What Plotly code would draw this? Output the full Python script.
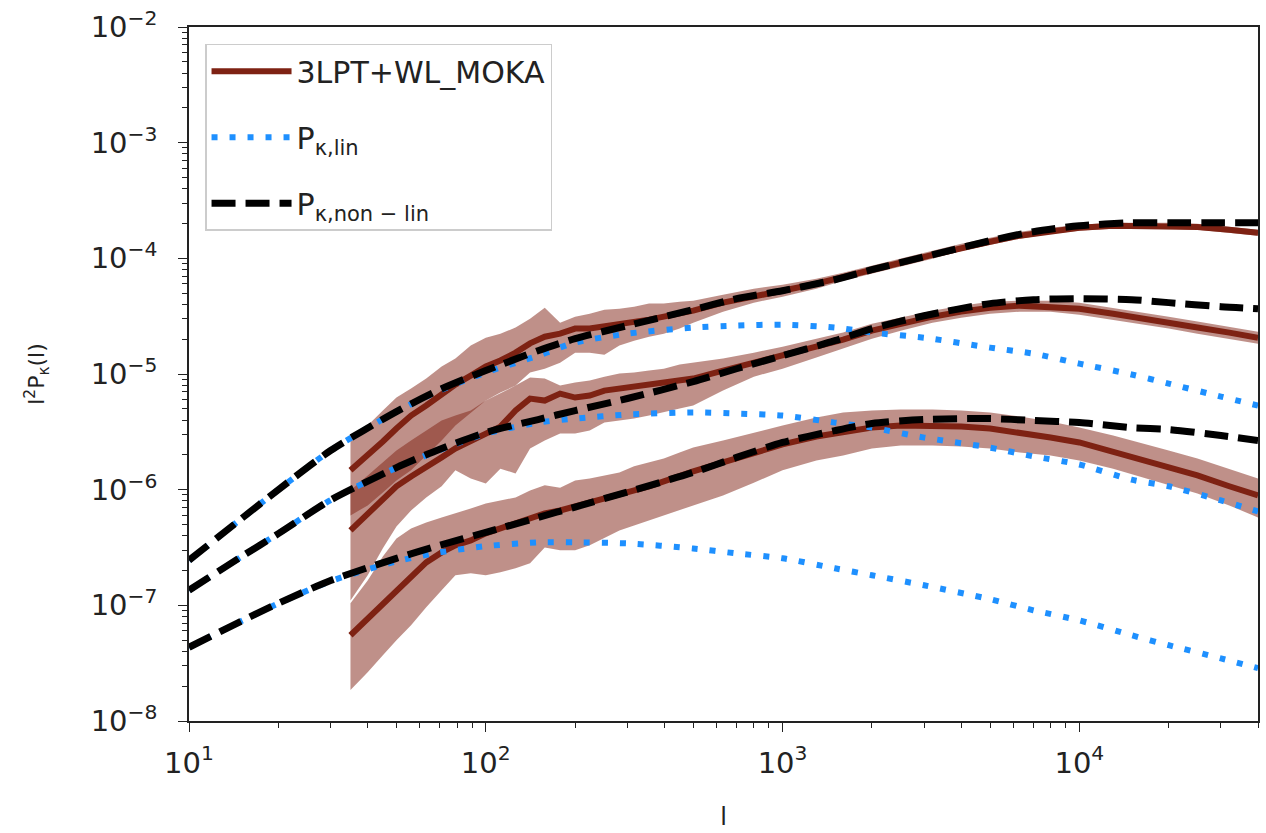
import plotly.graph_objects as go

# ---------------- data ----------------
# multipole grid for theory curves
l_theory = [10, 15, 20, 30, 50, 70, 100, 150, 200, 300, 500, 700, 1000, 1500,
            2000, 3000, 5000, 7000, 10000, 15000, 20000, 30000, 40000]

nonlin_top = [2.45e-7, 5.6e-7, 1.0e-6, 2.18e-6, 4.73e-6, 7.33e-6, 1.07e-5, 1.59e-5, 2.02e-5, 2.62e-5,
              3.60e-5, 4.48e-5, 5.25e-5, 6.53e-5, 7.97e-5, 1.03e-4, 1.42e-4, 1.70e-4, 1.91e-4,
              2.03e-4, 2.03e-4, 2.03e-4, 2.03e-4]
lin_top = [2.45e-7, 5.6e-7, 1.0e-6, 2.18e-6, 4.73e-6, 7.2e-6, 1.03e-5, 1.44e-5, 1.87e-5, 2.23e-5,
           2.52e-5, 2.62e-5, 2.67e-5, 2.52e-5, 2.28e-5, 2.06e-5, 1.69e-5, 1.50e-5, 1.23e-5,
           9.9e-6, 8.26e-6, 6.38e-6, 5.33e-6]
nonlin_mid = [1.35e-7, 2.63e-7, 4.17e-7, 8.13e-7, 1.55e-6, 2.24e-6, 3.12e-6, 4.04e-6, 4.83e-6, 6.14e-6,
              8.59e-6, 1.11e-5, 1.44e-5, 1.94e-5, 2.47e-5, 3.19e-5, 4.06e-5, 4.39e-5, 4.48e-5,
              4.39e-5, 4.14e-5, 3.82e-5, 3.67e-5]
lin_mid = [1.35e-7, 2.63e-7, 4.17e-7, 8.13e-7, 1.55e-6, 2.2e-6, 3.05e-6, 3.80e-6, 4.12e-6, 4.46e-6,
           4.65e-6, 4.55e-6, 4.37e-6, 3.80e-6, 3.44e-6, 2.82e-6, 2.31e-6, 1.94e-6, 1.65e-6,
           1.22e-6, 1.07e-6, 8.07e-7, 6.49e-7]
nonlin_bot = [4.34e-8, 7.3e-8, 1.04e-7, 1.64e-7, 2.55e-7, 3.31e-7, 4.27e-7, 5.75e-7, 7.08e-7, 9.55e-7,
              1.41e-6, 1.90e-6, 2.56e-6, 3.24e-6, 3.73e-6, 4.04e-6, 4.12e-6, 3.96e-6, 3.80e-6,
              3.44e-6, 3.31e-6, 2.94e-6, 2.66e-6]
lin_bot = [4.34e-8, 7.3e-8, 1.04e-7, 1.62e-7, 2.40e-7, 2.87e-7, 3.25e-7, 3.50e-7, 3.50e-7, 3.43e-7,
           3.10e-7, 2.81e-7, 2.55e-7, 2.09e-7, 1.82e-7, 1.49e-7, 1.13e-7, 9.06e-8, 7.41e-8,
           5.51e-8, 4.52e-8, 3.48e-8, 2.86e-8]

# multipole grid for the simulation (3LPT+WL_MOKA) measurements
l_sim = [35, 40, 45, 50, 56, 63, 71, 79, 89, 100, 112, 126, 141, 158, 178, 200, 224, 251, 282, 316,
         355, 398, 450, 500, 630, 800, 1000, 1300, 1600, 2000, 2500, 3200, 4000, 5000, 6300, 8000,
         10000, 13000, 16000, 20000, 25000, 32000, 40000]

sim_top = [1.47e-6, 1.97e-6, 2.61e-6, 3.38e-6, 4.37e-6, 5.34e-6, 6.64e-6, 8.10e-6, 9.69e-6,
           1.16e-5, 1.31e-5, 1.53e-5, 1.84e-5, 2.10e-5, 2.23e-5, 2.47e-5, 2.47e-5, 2.57e-5, 2.67e-5,
           2.78e-5, 2.95e-5, 3.13e-5, 3.32e-5, 3.53e-5, 4.14e-5, 4.75e-5, 5.25e-5, 6.04e-5, 6.94e-5,
           7.97e-5, 9.16e-5, 1.07e-4, 1.23e-4, 1.39e-4, 1.57e-4, 1.73e-4, 1.84e-4, 1.91e-4, 1.91e-4,
           1.91e-4, 1.87e-4, 1.77e-4, 1.66e-4]
sim_top_hi = [2.94e-6, 3.58e-6, 4.83e-6, 6.26e-6, 7.48e-6, 9.13e-6, 1.16e-5, 1.36e-5, 1.76e-5,
              2.06e-5, 2.23e-5, 2.52e-5, 3.01e-5, 3.74e-5, 2.78e-5, 3.13e-5, 3.32e-5, 3.60e-5, 3.67e-5,
              3.82e-5, 4.06e-5, 4.06e-5, 4.22e-5, 4.30e-5, 4.85e-5, 5.47e-5, 5.92e-5, 6.66e-5, 7.51e-5,
              8.63e-5, 9.92e-5, 1.16e-4, 1.34e-4, 1.51e-4, 1.70e-4, 1.84e-4, 1.95e-4, 2.03e-4, 2.03e-4,
              2.03e-4, 1.99e-4, 1.87e-4, 1.77e-4]
sim_top_lo = [5.99e-7, 7.31e-7, 9.46e-7, 1.20e-6, 1.47e-6, 1.97e-6, 2.66e-6, 3.58e-6, 4.64e-6,
              5.89e-6, 6.91e-6, 7.94e-6, 1.03e-5, 1.11e-5, 1.25e-5, 1.53e-5, 1.53e-5, 1.47e-5, 1.76e-5,
              1.94e-5, 2.10e-5, 2.23e-5, 2.47e-5, 2.78e-5, 3.46e-5, 4.14e-5, 4.66e-5, 5.47e-5, 6.41e-5,
              7.36e-5, 8.46e-5, 9.92e-5, 1.16e-4, 1.31e-4, 1.48e-4, 1.63e-4, 1.73e-4, 1.80e-4, 1.80e-4,
              1.80e-4, 1.77e-4, 1.66e-4, 1.57e-4]

sim_mid = [4.44e-7, 6.23e-7, 8.39e-7, 1.07e-6, 1.30e-6, 1.55e-6, 1.90e-6, 2.27e-6, 2.66e-6,
           3.12e-6, 3.51e-6, 4.83e-6, 6.13e-6, 5.89e-6, 6.77e-6, 6.26e-6, 6.51e-6, 7.19e-6, 7.48e-6,
           7.63e-6, 7.94e-6, 8.26e-6, 8.77e-6, 9.13e-6, 1.07e-5, 1.25e-5, 1.44e-5, 1.72e-5, 1.98e-5,
           2.37e-5, 2.72e-5, 3.13e-5, 3.46e-5, 3.74e-5, 3.90e-5, 3.82e-5, 3.67e-5, 3.32e-5, 3.07e-5,
           2.78e-5, 2.52e-5, 2.28e-5, 2.06e-5]
sim_mid_hi = [9.84e-7, 1.33e-6, 1.72e-6, 2.18e-6, 2.66e-6, 3.24e-6, 3.96e-6, 4.37e-6, 4.83e-6,
              5.89e-6, 6.77e-6, 7.94e-6, 9.31e-6, 9.13e-6, 7.94e-6, 8.43e-6, 8.77e-6, 9.49e-6, 1.01e-5,
              1.03e-5, 1.07e-5, 1.11e-5, 1.21e-5, 1.25e-5, 1.36e-5, 1.53e-5, 1.72e-5, 2.02e-5, 2.28e-5,
              2.72e-5, 3.07e-5, 3.53e-5, 3.90e-5, 4.22e-5, 4.30e-5, 4.30e-5, 4.14e-5, 3.74e-5, 3.46e-5,
              3.13e-5, 2.84e-5, 2.57e-5, 2.32e-5]
sim_mid_lo = [1.10e-7, 1.82e-7, 3.11e-7, 4.81e-7, 6.61e-7, 8.56e-7, 1.07e-6, 1.47e-6, 1.25e-6,
              1.13e-6, 1.52e-6, 1.38e-6, 2.27e-6, 2.66e-6, 3.06e-6, 3.06e-6, 3.24e-6, 3.80e-6, 3.96e-6,
              4.12e-6, 4.37e-6, 4.64e-6, 5.02e-6, 5.34e-6, 7.19e-6, 9.49e-6, 1.11e-5, 1.39e-5, 1.66e-5,
              2.02e-5, 2.37e-5, 2.78e-5, 3.07e-5, 3.32e-5, 3.46e-5, 3.46e-5, 3.26e-5, 2.95e-5, 2.72e-5,
              2.47e-5, 2.23e-5, 2.02e-5, 1.83e-5]

sim_bot = [5.51e-8, 7.72e-8, 1.04e-7, 1.35e-7, 1.75e-7, 2.35e-7, 2.87e-7, 3.30e-7, 3.64e-7,
           4.19e-7, 4.62e-7, 5.11e-7, 5.75e-7, 6.23e-7, 6.61e-7, 7.16e-7, 7.60e-7, 8.23e-7, 8.91e-7,
           9.84e-7, 1.07e-6, 1.18e-6, 1.33e-6, 1.44e-6, 1.72e-6, 2.10e-6, 2.46e-6, 2.88e-6, 3.18e-6,
           3.44e-6, 3.58e-6, 3.58e-6, 3.51e-6, 3.38e-6, 3.12e-6, 2.82e-6, 2.56e-6, 2.14e-6, 1.86e-6,
           1.55e-6, 1.33e-6, 1.07e-6, 8.91e-7]
sim_bot_hi = [1.04e-7, 1.64e-7, 2.65e-7, 3.79e-7, 4.62e-7, 5.21e-7, 5.75e-7, 6.23e-7, 6.88e-7,
              7.60e-7, 8.07e-7, 8.56e-7, 9.84e-7, 1.09e-6, 1.04e-6, 1.20e-6, 1.25e-6, 1.33e-6, 1.41e-6,
              1.59e-6, 1.72e-6, 1.86e-6, 2.10e-6, 2.31e-6, 2.66e-6, 3.12e-6, 3.58e-6, 4.20e-6, 4.64e-6,
              4.83e-6, 4.93e-6, 4.93e-6, 4.83e-6, 4.64e-6, 4.29e-6, 3.88e-6, 3.44e-6, 2.94e-6, 2.56e-6,
              2.18e-6, 1.86e-6, 1.52e-6, 1.25e-6]
sim_bot_lo = [1.85e-8, 2.64e-8, 3.70e-8, 4.99e-8, 6.72e-8, 9.61e-8, 1.35e-7, 1.82e-7, 1.89e-7,
              1.82e-7, 1.93e-7, 2.09e-7, 2.31e-7, 3.17e-7, 2.99e-7, 2.99e-7, 3.30e-7, 3.79e-7, 4.44e-7,
              4.91e-7, 5.42e-7, 5.99e-7, 6.61e-7, 7.31e-7, 8.91e-7, 1.15e-6, 1.47e-6, 1.79e-6, 1.97e-6,
              2.27e-6, 2.41e-6, 2.41e-6, 2.36e-6, 2.27e-6, 2.10e-6, 1.97e-6, 1.79e-6, 1.52e-6, 1.30e-6,
              1.11e-6, 9.27e-7, 7.31e-7, 5.75e-7]

x_ticks = [10, 100, 1000, 10000]
x_ticktext = ["10<sup>1</sup>", "10<sup>2</sup>", "10<sup>3</sup>", "10<sup>4</sup>"]
y_ticks = [1e-8, 1e-7, 1e-6, 1e-5, 1e-4, 1e-3, 1e-2]
y_ticktext = ["10<sup>−8</sup>", "10<sup>−7</sup>", "10<sup>−6</sup>", "10<sup>−5</sup>",
              "10<sup>−4</sup>", "10<sup>−3</sup>", "10<sup>−2</sup>"]
x_minor = [m * 10 ** e for e in (1, 2, 3) for m in range(2, 10)] + [20000, 30000, 40000]
y_minor = [m * 10.0 ** e for e in (-8, -7, -6, -5, -4, -3) for m in range(2, 10)]

# ---------------- styles ----------------
BROWN = "#7e2213"
BAND = "rgba(128,34,20,0.5)"
BLUE = "#1e90ff"
BLACK = "#000000"
FONT = "DejaVu Sans"
INK = "#222222"

fig = go.Figure()

groups = [
    (sim_top, sim_top_lo, sim_top_hi),
    (sim_mid, sim_mid_lo, sim_mid_hi),
    (sim_bot, sim_bot_lo, sim_bot_hi),
]

# error bands
for center, lo, hi in groups:
    fig.add_trace(go.Scatter(x=l_sim, y=lo, mode="lines", line=dict(width=0, color=BAND),
                             showlegend=False, hoverinfo="skip"))
    fig.add_trace(go.Scatter(x=l_sim, y=hi, mode="lines", line=dict(width=0, color=BAND),
                             fill="tonexty", fillcolor=BAND, showlegend=False, hoverinfo="skip"))

# simulation mean curves
for i, (center, lo, hi) in enumerate(groups):
    fig.add_trace(go.Scatter(x=l_sim, y=center, mode="lines",
                             line=dict(color=BROWN, width=6),
                             name="3LPT+WL_MOKA", legendgroup="sim", legendrank=1,
                             showlegend=(i == 0)))

# linear theory
for i, ys in enumerate([lin_top, lin_mid, lin_bot]):
    fig.add_trace(go.Scatter(x=l_theory, y=ys, mode="lines",
                             line=dict(color=BLUE, width=6, dash="6px,12px", shape="spline", smoothing=0.7),
                             name="P<sub>κ,lin</sub>", legendgroup="lin", legendrank=2,
                             showlegend=(i == 0)))

# non-linear theory
for i, ys in enumerate([nonlin_top, nonlin_mid, nonlin_bot]):
    fig.add_trace(go.Scatter(x=l_theory, y=ys, mode="lines",
                             line=dict(color=BLACK, width=7, dash="24px,10px", shape="spline", smoothing=0.7),
                             name="P<sub>κ,non − lin</sub>", legendgroup="nonlin", legendrank=3,
                             showlegend=(i == 0)))

axis_common = dict(
    type="log",
    showline=True, linecolor=INK, linewidth=1.5, mirror=True,
    ticks="outside", ticklen=9, tickwidth=1.3, tickcolor=INK,
    showgrid=False, zeroline=False,
    tickfont=dict(family=FONT, size=29, color=INK),
)

fig.update_layout(
    width=1266, height=833,
    margin=dict(l=189, r=6, t=26, b=112),
    paper_bgcolor="white", plot_bgcolor="white",
    font=dict(family=FONT, color=INK),
    xaxis=dict(axis_common, range=[1, 4.602], tickvals=x_ticks, ticktext=x_ticktext,
               ticklabelstandoff=6,
               minor=dict(ticks="outside", ticklen=5, tickwidth=1, tickcolor=INK, showgrid=False,
                          tickvals=x_minor),
               title=dict(text="l", font=dict(family=FONT, size=24), standoff=30)),
    yaxis=dict(axis_common, range=[-8, -2], tickvals=y_ticks, ticktext=y_ticktext,
               ticklabelstandoff=15,
               minor=dict(ticks="outside", ticklen=5, tickwidth=1, tickcolor=INK, showgrid=False,
                          tickvals=y_minor),
               title=dict(text="l<sup>2</sup>P<sub>κ</sub>(l)", font=dict(family=FONT, size=22), standoff=40)),
    legend=dict(x=0.015, y=0.976, xanchor="left", yanchor="top",
                bgcolor="rgba(255,255,255,0.85)", bordercolor="#cccccc", borderwidth=1.5,
                font=dict(family=FONT, size=30, color=INK),
                traceorder="grouped", tracegroupgap=24, itemwidth=80),
)

fig.write_html("out.html")
